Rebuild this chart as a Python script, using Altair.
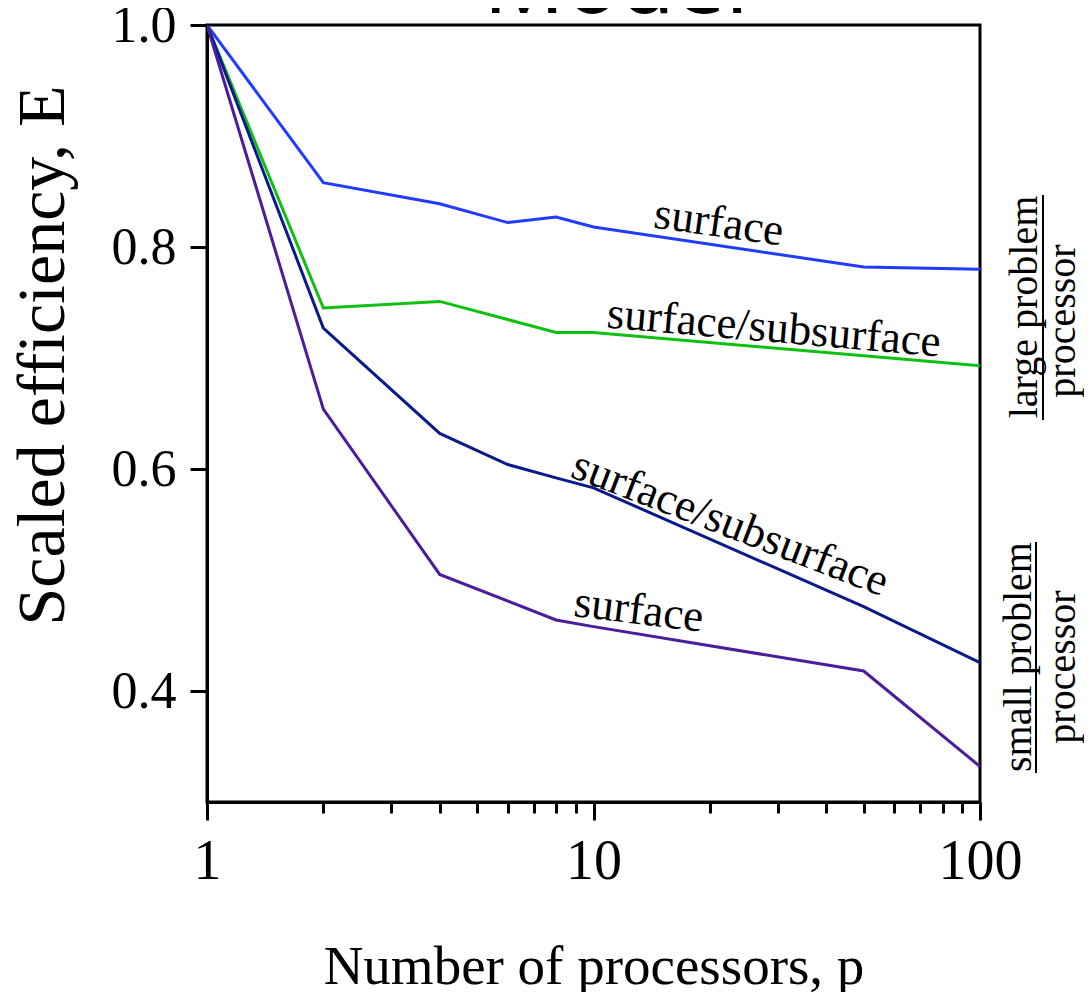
import altair as alt
import pandas as pd

# ---- data ----
blue_x = [1, 2, 4, 6, 8, 10, 50, 100]
blue_y = [1.0, 0.858, 0.839, 0.822, 0.827, 0.818, 0.782, 0.780]

green_x = [1, 2, 4, 8, 10, 100]
green_y = [1.0, 0.745, 0.751, 0.723, 0.723, 0.693]

navy_x = [1, 2, 4, 6, 8, 10, 50, 100]
navy_y = [1.0, 0.727, 0.632, 0.604, 0.592, 0.583, 0.476, 0.4255]

purple_x = [1, 2, 4, 8, 10, 50, 100]
purple_y = [1.0, 0.654, 0.505, 0.464, 0.458, 0.418, 0.332]

series_names = ["large surface", "large surface/subsurface", "small surface/subsurface", "small surface"]
series_colors = ["#1f3cff", "#10c010", "#0a1a8c", "#4b1c9c"]

label_text = ["surface", "surface/subsurface", "surface/subsurface", "surface"]
label_x = [21.1, 29.3, 22.6, 13.1]
label_y = [0.822, 0.727, 0.551, 0.473]
label_angle = [8, 5, 21, 7]

x_ticks = [1, 2, 3, 4, 5, 6, 7, 8, 9, 10, 20, 30, 40, 50, 60, 70, 80, 90, 100]
y_ticks = [0.4, 0.6, 0.8, 1.0]

rows = []
for name, xs, ys in zip(series_names,
                        [blue_x, green_x, navy_x, purple_x],
                        [blue_y, green_y, navy_y, purple_y]):
    for i, (xv, yv) in enumerate(zip(xs, ys)):
        rows.append({"series": name, "p": xv, "E": yv, "order": i})
df = pd.DataFrame(rows)

labels_df = pd.DataFrame({"text": label_text, "p": label_x, "E": label_y, "angle": label_angle})

SERIF = "Liberation Serif"
W, H = 773, 777

xscale = alt.Scale(type="log", domain=[1, 100], nice=False)
yscale = alt.Scale(domain=[0.3, 1.0], nice=False, zero=False)

major = "datum.value == 1 || datum.value == 10 || datum.value == 100"

lines = alt.Chart(df).mark_line(strokeWidth=3, clip=True).encode(
    x=alt.X("p:Q", scale=xscale,
            axis=alt.Axis(values=x_ticks, title="Number of processors, p",
                          labelExpr=f"({major}) ? format(datum.value, 'd') : ''",
                          labelFont=SERIF, labelFontSize=56, labelColor="black",
                          labelPadding=14, labelFlush=False, labelOverlap=False,
                          tickSize={"condition": {"test": major, "value": 18}, "value": 11},
                          tickWidth=3, tickColor="black",
                          domainWidth=3, domainColor="black", grid=False,
                          titleFont=SERIF, titleFontSize=55, titleFontWeight="normal",
                          titleColor="black", titleBaseline="alphabetic",
                          titleY=181)),
    y=alt.Y("E:Q", scale=yscale,
            axis=alt.Axis(values=y_ticks, format=".1f", title="Scaled efficiency, E",
                          labelFont=SERIF, labelFontSize=52, labelColor="black",
                          labelPadding=14, labelFlush=False, labelOverlap=False,
                          tickSize=17, tickWidth=3, tickColor="black",
                          domainWidth=3, domainColor="black", grid=False,
                          titleFont=SERIF, titleFontSize=68, titleFontWeight="normal",
                          titleColor="black", titleAngle=270, titleAlign="center",
                          titleBaseline="middle", titleX=-164, titleY=330)),
    color=alt.Color("series:N", scale=alt.Scale(domain=series_names, range=series_colors),
                    legend=None),
    detail="series:N",
    order="order:Q",
)

curve_labels = alt.Chart(labels_df).mark_text(
    font=SERIF, fontSize=45, color="black", align="center", baseline="middle"
).encode(
    x=alt.X("p:Q", scale=xscale),
    y=alt.Y("E:Q", scale=yscale),
    text="text:N",
    angle=alt.Angle("angle:Q", scale=None),
)

# side annotations (outside plot area)
side_text = ["large problem", "processor", "small problem", "processor"]
side_x = [830, 868, 824, 868]
side_y = [282, 296, 632, 642]
side_df = pd.DataFrame({"text": side_text, "sx": side_x, "sy": side_y})

side = alt.Chart(side_df).mark_text(
    font=SERIF, fontSize=40, color="black", align="center", baseline="alphabetic", angle=270
).encode(
    x=alt.X("sx:Q", scale=None),
    y=alt.Y("sy:Q", scale=None),
    text="text:N",
)

ul_x = [836, 829]
ul_y = [170, 517]
ul_y2 = [395, 748]
ul_df = pd.DataFrame({"ux": ul_x, "uy": ul_y, "uy2": ul_y2})
underlines = alt.Chart(ul_df).mark_rule(strokeWidth=2, color="black").encode(
    x=alt.X("ux:Q", scale=None),
    y=alt.Y("uy:Q", scale=None),
    y2="uy2:Q",
)

title_df = pd.DataFrame({"text": ["Model"], "tx": [409], "ty": [-12]})
title = alt.Chart(title_df).mark_text(
    font="Noto Sans", fontSize=90, color="black", align="center", baseline="alphabetic"
).encode(
    x=alt.X("tx:Q", scale=None),
    y=alt.Y("ty:Q", scale=None),
    text="text:N",
)

chart = alt.layer(lines, curve_labels, side, underlines, title).properties(
    width=W, height=H,
    autosize=alt.AutoSizeParams(type="none"),
    padding={"left": 199, "top": 17, "right": 104, "bottom": 190},
    background="white",
).configure_view(stroke="black", strokeWidth=3)

chart.save("out.html", embed_options={"renderer": "svg", "actions": False})
